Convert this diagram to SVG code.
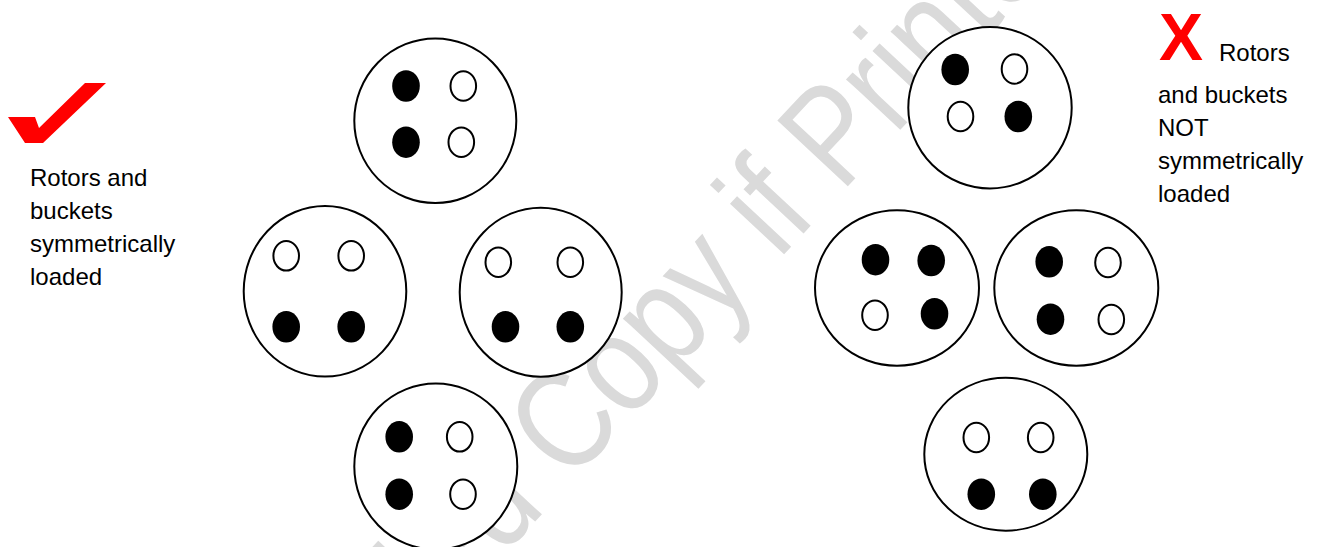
<svg xmlns="http://www.w3.org/2000/svg" width="1319" height="547" viewBox="0 0 1319 547">
<style>
.rim{fill:#fff;stroke:#000;stroke-width:2}
.full{fill:#000}
.empty{fill:#fff;stroke:#000;stroke-width:2}
.lbl{font-family:"Liberation Sans",Arial,sans-serif;font-size:24px;fill:#000}
.wm{font-family:"Liberation Sans",Arial,sans-serif;font-size:140px;fill:#dadada}
</style>
<defs>
<ellipse id="f" class="full" rx="13.8" ry="15.8"/>
<ellipse id="o" class="empty" rx="12.8" ry="14.8"/>
</defs>
<rect width="1319" height="547" fill="#fff"/>
<text class="wm" transform="translate(96.8,991.4) rotate(-47) scale(0.84,1)">Uncontrolled Copy if Printed</text>

<g id="legend-ok">
<polygon points="8,117 35,117 39,128 85,83 106,83 43,143 25,143" fill="#ff0000"/>
<text class="lbl" x="30" y="186">Rotors and</text>
<text class="lbl" x="30" y="219">buckets</text>
<text class="lbl" x="30" y="252">symmetrically</text>
<text class="lbl" x="30" y="285">loaded</text>
</g>

<g id="legend-bad">
<text x="1159" y="60" font-family="Liberation Sans,Arial,sans-serif" font-weight="bold" font-size="66" fill="#ff0000">X</text>
<text class="lbl" x="1219" y="61">Rotors</text>
<text class="lbl" x="1158" y="103">and buckets</text>
<text class="lbl" x="1158" y="136">NOT</text>
<text class="lbl" x="1158" y="169">symmetrically</text>
<text class="lbl" x="1158" y="202">loaded</text>
</g>

<g id="sym-top">
<ellipse class="rim" cx="435.3" cy="120.7" rx="81" ry="82.3"/>
<use href="#f" x="406" y="86"/><use href="#o" x="463.3" y="86"/>
<use href="#f" x="406" y="142.2"/><use href="#o" x="461.3" y="142.2"/>
</g>
<g id="sym-left">
<ellipse class="rim" cx="325" cy="291.3" rx="81.3" ry="85.3"/>
<use href="#o" x="286.2" y="255.8"/><use href="#o" x="351.2" y="255.8"/>
<use href="#f" x="286.2" y="326.8"/><use href="#f" x="351.2" y="326.8"/>
</g>
<g id="sym-right">
<ellipse class="rim" cx="540.7" cy="292.2" rx="81" ry="84.5"/>
<use href="#o" x="498.3" y="262.2"/><use href="#o" x="570.3" y="262.2"/>
<use href="#f" x="505.5" y="326.8"/><use href="#f" x="570.3" y="326.8"/>
</g>
<g id="sym-bottom">
<ellipse class="rim" cx="435.8" cy="466.5" rx="81.5" ry="83"/>
<use href="#f" x="399.2" y="436.8"/><use href="#o" x="459.7" y="436.8"/>
<use href="#f" x="399.2" y="494.2"/><use href="#o" x="463" y="494.2"/>
</g>

<g id="asym-top">
<ellipse class="rim" cx="990" cy="107.7" rx="81.7" ry="80.7"/>
<use href="#f" x="955.2" y="69.5"/><use href="#o" x="1014.5" y="69"/>
<use href="#o" x="960.5" y="116.5"/><use href="#f" x="1018.3" y="116.5"/>
</g>
<g id="asym-left">
<ellipse class="rim" cx="897" cy="288" rx="82" ry="77.7"/>
<use href="#f" x="875.5" y="259.7"/><use href="#f" x="931.2" y="260.5"/>
<use href="#o" x="875" y="315.2"/><use href="#f" x="934.5" y="313.8"/>
</g>
<g id="asym-right">
<ellipse class="rim" cx="1076.3" cy="288" rx="82" ry="77.7"/>
<use href="#f" x="1049.2" y="261.8"/><use href="#o" x="1108" y="262.5"/>
<use href="#f" x="1050.5" y="319.2"/><use href="#o" x="1111.3" y="319.5"/>
</g>
<g id="asym-bottom">
<ellipse class="rim" cx="1005.8" cy="454.2" rx="81.5" ry="76.5"/>
<use href="#o" x="976.3" y="437.5"/><use href="#o" x="1040.7" y="437.5"/>
<use href="#f" x="981.3" y="494.2"/><use href="#f" x="1042.8" y="494.2"/>
</g>
<g id="connectors"/>
</svg>
